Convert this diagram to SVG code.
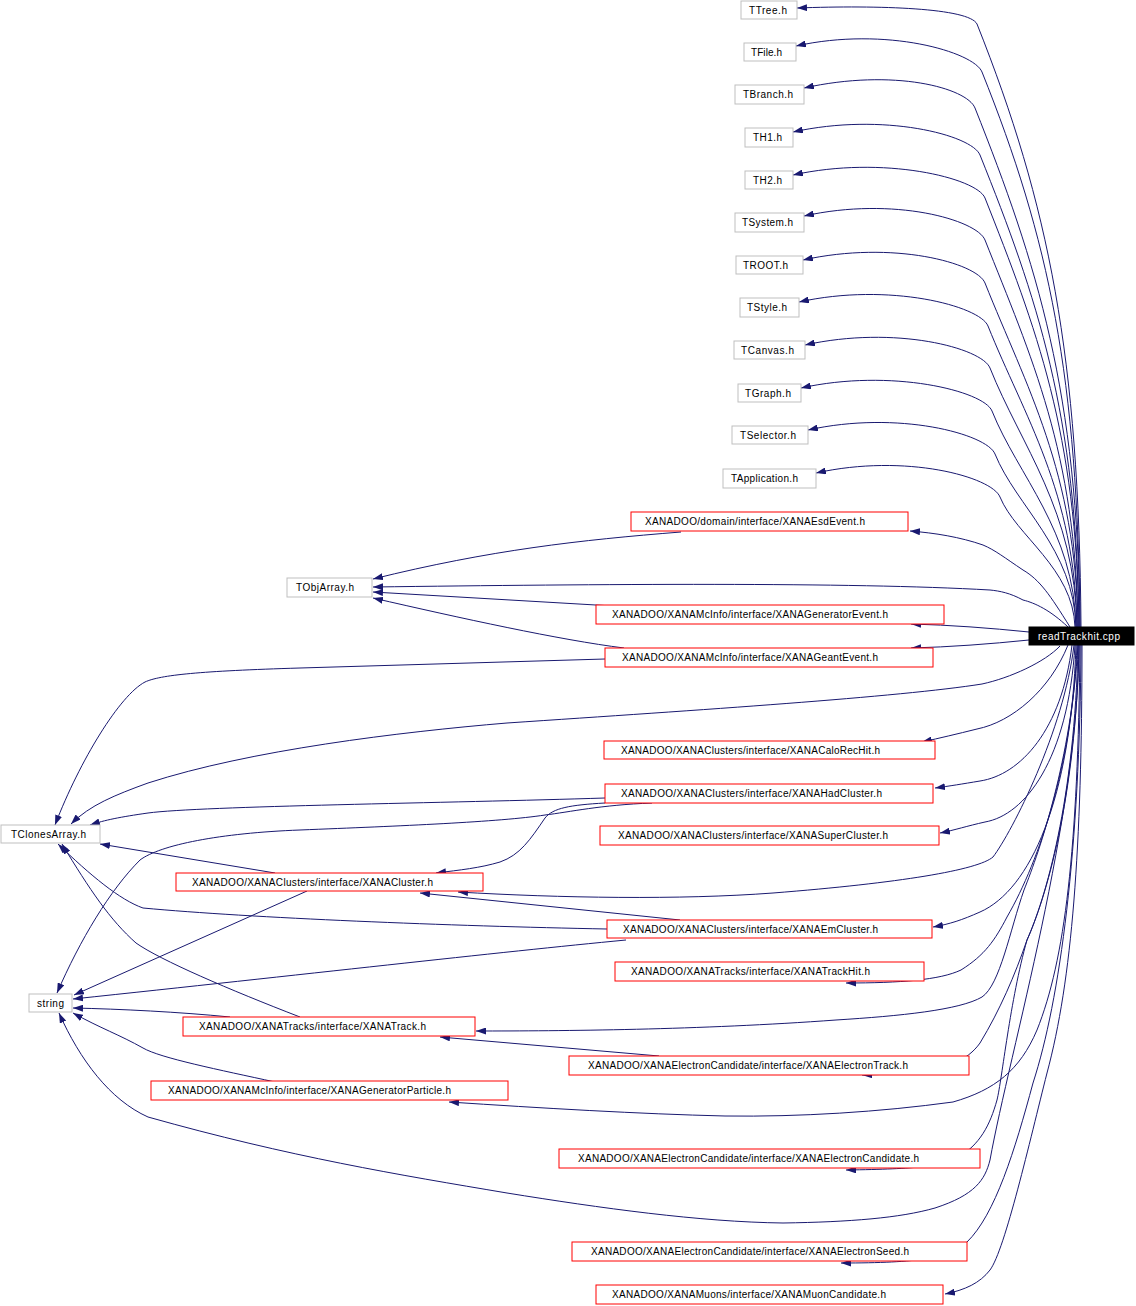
<svg xmlns="http://www.w3.org/2000/svg" width="1136" height="1306" viewBox="0 0 1136 1306">
<style>
.e{fill:none;stroke:#191970;stroke-width:1;marker-end:url(#arr)}
.g{fill:#fff;stroke:#bfbfbf;stroke-width:1}
.r{fill:#fff;stroke:#ff0000;stroke-width:1}
.b{fill:#000;stroke:#000;stroke-width:1}
text{font-family:"Liberation Sans",Arial,Helvetica,sans-serif;font-size:10px;fill:#000}
.w{fill:#fff}
</style>
<defs>
<marker id="arr" viewBox="0 0 10 7" refX="10" refY="3.5" markerWidth="10" markerHeight="7" markerUnits="userSpaceOnUse" orient="auto">
<path d="M0,0 L10,3.5 L0,7 z" fill="#191970"/>
</marker>
</defs>
<rect width="1136" height="1306" fill="#fff"/>
<g id="edges">
<path class="e" d="M1081,627 C1079,356 1049,205 977,24 C969,8 880,5 797,8"/>
<path class="e" d="M1080,627 C1078,377 1049,239 982,72 C974,52 886,26 796,46"/>
<path class="e" d="M1080,627 C1078,393 1037,264 975,108 C967,88 894,68 804,88"/>
<path class="e" d="M1079,627 C1077,415 1037,297 980,155 C972,135 883,112 793,132"/>
<path class="e" d="M1079,627 C1077,434 1036,327 985,198 C977,178 883,155 793,175"/>
<path class="e" d="M1078,627 C1076,453 1031,356 985,240 C977,220 894,196 804,216"/>
<path class="e" d="M1078,627 C1076,472 1026,386 985,283 C977,263 893,240 803,260"/>
<path class="e" d="M1077,627 C1075,492 1024,416 988,326 C980,306 889,282 799,302"/>
<path class="e" d="M1077,627 C1075,510 1021,446 990,368 C982,348 895,325 805,345"/>
<path class="e" d="M1076,627 C1074,530 1018,476 992,411 C984,391 891,368 801,388"/>
<path class="e" d="M1076,627 C1074,549 1016,506 995,454 C987,434 898,410 808,430"/>
<path class="e" d="M1075,627 C1073,568 1016,536 1000,497 C992,477 906,453 816,473"/>
<path class="e" d="M1070,627 C1050,595 1040,580 1023,570 C1005,558 995,550 983,545 C960,537 935,533 910,531"/>
<path class="e" d="M1068,627 C1050,610 1035,603 1023,600 C1010,593 1000,591 990,590 C850,582 600,584 373,587"/>
<path class="e" d="M1029,632 C990,628 950,625 911,624"/>
<path class="e" d="M1029,640 C990,644 950,647 911,648"/>
<path class="e" d="M681,532 C580,540 490,550 373,579"/>
<path class="e" d="M613,606 L373,592"/>
<path class="e" d="M624,648 C560,640 460,618 373,598"/>
<path class="e" d="M1060,646 C1045,662 1010,678 982,684 C900,697 700,710 507,723 C400,732 250,750 148,783 C115,795 90,805 71,824"/>
<path class="e" d="M605,659 L300,668 C200,671 160,675 145,682 C120,695 80,760 55,825"/>
<path class="e" d="M1068,645 C1050,690 1012,722 977,729 C957,734 940,738 922,742"/>
<path class="e" d="M1072,645 C1062,730 1020,775 980,781 C962,784 950,786 935,788"/>
<path class="e" d="M1075,645 C1068,760 1025,815 985,822 C967,826 955,830 940,833"/>
<path class="e" d="M605,798 C450,803 200,806 148,813 C120,817 105,820 90,825"/>
<path class="e" d="M652,803 C600,805 570,812 545,815 C500,822 400,826 300,830 C220,833 160,845 140,860 C110,890 80,940 57,993"/>
<path class="e" d="M605,803 C570,805 553,808 545,818 C530,840 520,855 500,862 C480,868 460,870 436,873"/>
<path class="e" d="M1074,645 C1064,730 1012,832 993,857 C978,870 900,883 773,893 C680,900 560,898 458,892"/>
<path class="e" d="M275,873 L100,844"/>
<path class="e" d="M307,891 L74,995"/>
<path class="e" d="M1076,645 C1071,800 1030,890 980,912 C962,920 950,924 933,927"/>
<path class="e" d="M607,929 C450,926 250,918 143,908 C120,900 90,875 58,844"/>
<path class="e" d="M680,920 L420,893"/>
<path class="e" d="M626,940 C500,952 300,975 73,999"/>
<path class="e" d="M1077,645 C1073,760 1040,860 1007,917 C995,940 985,955 961,970 C940,980 900,983 846,983"/>
<path class="e" d="M1078,645 C1071,760 1040,850 1024,890 C1010,930 1000,985 982,997 C960,1010 900,1016 836,1020 C700,1030 560,1031 476,1031"/>
<path class="e" d="M300,1017 C230,990 160,960 136,943 C110,920 90,890 62,844"/>
<path class="e" d="M230,1017 C180,1012 120,1009 73,1008"/>
<path class="e" d="M1078,645 C1075,800 1045,900 1027,940 C1015,975 1000,1010 980,1043 C968,1060 945,1072 898,1074 L862,1075"/>
<path class="e" d="M659,1056 L440,1037"/>
<path class="e" d="M1080,645 C1078,850 1065,960 1037,1030 C1020,1070 995,1090 953,1102 C880,1112 800,1117 725,1116 C640,1114 540,1108 449,1102"/>
<path class="e" d="M275,1082 C220,1070 160,1058 143,1048 C120,1035 100,1028 73,1013"/>
<path class="e" d="M1079,645 C1076,800 1045,900 1027,940 C1010,1000 1002,1080 997,1100 C990,1125 980,1145 957,1158 C940,1166 920,1169 846,1170"/>
<path class="e" d="M1079,645 C1078,820 1010,1050 990,1160 C985,1180 975,1195 935,1208 C900,1218 850,1222 783,1223 C700,1222 600,1208 507,1193 C400,1175 290,1157 148,1117 C110,1100 80,1060 59,1013"/>
<path class="e" d="M1081,645 C1080,850 1060,1000 1033,1083 C1015,1150 995,1215 967,1242 C950,1258 920,1263 841,1263"/>
<path class="e" d="M1082,645 C1082,850 1072,980 1047,1073 C1030,1140 1005,1250 990,1270 C980,1283 965,1290 945,1294"/>
</g>
<g id="n-TTree"><rect class="g" x="741" y="1" width="56" height="18"/><text x="749" y="13.5" textLength="38">TTree.h</text></g>
<g id="n-TFile"><rect class="g" x="744" y="43" width="52" height="18"/><text x="751" y="55.5" textLength="31">TFile.h</text></g>
<g id="n-TBranch"><rect class="g" x="735" y="85" width="69" height="19"/><text x="743" y="98" textLength="50">TBranch.h</text></g>
<g id="n-TH1"><rect class="g" x="745" y="128" width="48" height="19"/><text x="753" y="141" textLength="29">TH1.h</text></g>
<g id="n-TH2"><rect class="g" x="745" y="171" width="48" height="18"/><text x="753" y="183.5" textLength="29">TH2.h</text></g>
<g id="n-TSystem"><rect class="g" x="735" y="213" width="69" height="19"/><text x="742" y="226" textLength="51">TSystem.h</text></g>
<g id="n-TROOT"><rect class="g" x="736" y="256" width="67" height="18"/><text x="743" y="268.5" textLength="45">TROOT.h</text></g>
<g id="n-TStyle"><rect class="g" x="740" y="298" width="59" height="19"/><text x="747" y="311" textLength="40">TStyle.h</text></g>
<g id="n-TCanvas"><rect class="g" x="734" y="341" width="71" height="18"/><text x="741" y="353.5" textLength="53">TCanvas.h</text></g>
<g id="n-TGraph"><rect class="g" x="738" y="384" width="63" height="18"/><text x="745" y="396.5" textLength="46">TGraph.h</text></g>
<g id="n-TSelector"><rect class="g" x="732" y="426" width="76" height="18"/><text x="740" y="438.5" textLength="56">TSelector.h</text></g>
<g id="n-TApplication"><rect class="g" x="723" y="469" width="93" height="19"/><text x="731" y="482" textLength="67">TApplication.h</text></g>
<g id="n-EsdEvent"><rect class="r" x="631" y="512" width="277" height="19"/><text x="645" y="525" textLength="220">XANADOO/domain/interface/XANAEsdEvent.h</text></g>
<g id="n-TObjArray"><rect class="g" x="287" y="578" width="85" height="19"/><text x="296" y="591" textLength="58">TObjArray.h</text></g>
<g id="n-GeneratorEvent"><rect class="r" x="596" y="605" width="348" height="19"/><text x="612" y="618" textLength="276">XANADOO/XANAMcInfo/interface/XANAGeneratorEvent.h</text></g>
<g id="n-readTrackhit"><rect class="b" x="1029" y="627" width="105" height="18"/><text class="w" x="1038" y="639.5" textLength="82">readTrackhit.cpp</text></g>
<g id="n-GeantEvent"><rect class="r" x="605" y="648" width="328" height="19"/><text x="622" y="661" textLength="256">XANADOO/XANAMcInfo/interface/XANAGeantEvent.h</text></g>
<g id="n-CaloRecHit"><rect class="r" x="604" y="741" width="331" height="18"/><text x="621" y="753.5" textLength="259">XANADOO/XANAClusters/interface/XANACaloRecHit.h</text></g>
<g id="n-HadCluster"><rect class="r" x="605" y="784" width="328" height="19"/><text x="621" y="797" textLength="261">XANADOO/XANAClusters/interface/XANAHadCluster.h</text></g>
<g id="n-SuperCluster"><rect class="r" x="600" y="826" width="339" height="19"/><text x="618" y="839" textLength="270">XANADOO/XANAClusters/interface/XANASuperCluster.h</text></g>
<g id="n-TClonesArray"><rect class="g" x="1" y="825" width="99" height="18"/><text x="11" y="837.5" textLength="75">TClonesArray.h</text></g>
<g id="n-XANACluster"><rect class="r" x="176" y="873" width="307" height="18"/><text x="192" y="885.5" textLength="241">XANADOO/XANAClusters/interface/XANACluster.h</text></g>
<g id="n-EmCluster"><rect class="r" x="607" y="920" width="325" height="18"/><text x="623" y="932.5" textLength="255">XANADOO/XANAClusters/interface/XANAEmCluster.h</text></g>
<g id="n-TrackHit"><rect class="r" x="615" y="962" width="309" height="19"/><text x="631" y="975" textLength="239">XANADOO/XANATracks/interface/XANATrackHit.h</text></g>
<g id="n-string"><rect class="g" x="29" y="994" width="43" height="18"/><text x="37" y="1006.5" textLength="27">string</text></g>
<g id="n-XANATrack"><rect class="r" x="183" y="1017" width="292" height="19"/><text x="199" y="1030" textLength="227">XANADOO/XANATracks/interface/XANATrack.h</text></g>
<g id="n-ElectronTrack"><rect class="r" x="569" y="1056" width="400" height="19"/><text x="588" y="1069" textLength="320">XANADOO/XANAElectronCandidate/interface/XANAElectronTrack.h</text></g>
<g id="n-GeneratorParticle"><rect class="r" x="151" y="1081" width="357" height="19"/><text x="168" y="1094" textLength="283">XANADOO/XANAMcInfo/interface/XANAGeneratorParticle.h</text></g>
<g id="n-ElectronCandidate"><rect class="r" x="559" y="1149" width="421" height="19"/><text x="578" y="1162" textLength="341">XANADOO/XANAElectronCandidate/interface/XANAElectronCandidate.h</text></g>
<g id="n-ElectronSeed"><rect class="r" x="572" y="1242" width="395" height="19"/><text x="591" y="1255" textLength="318">XANADOO/XANAElectronCandidate/interface/XANAElectronSeed.h</text></g>
<g id="n-MuonCandidate"><rect class="r" x="596" y="1285" width="347" height="19"/><text x="612" y="1298" textLength="274">XANADOO/XANAMuons/interface/XANAMuonCandidate.h</text></g>
</svg>
